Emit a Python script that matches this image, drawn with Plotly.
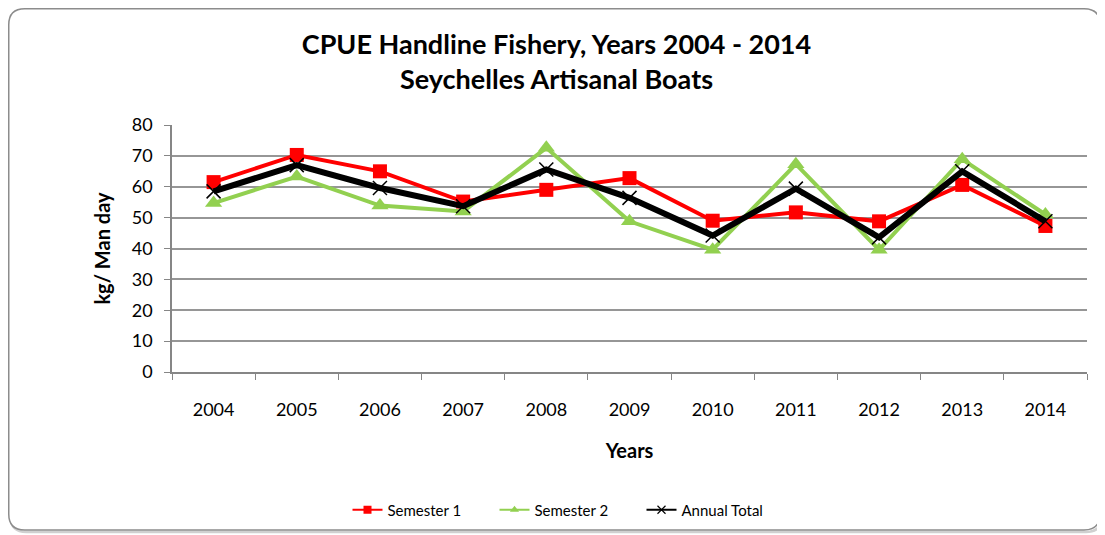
import plotly.graph_objects as go

years = ["2004", "2005", "2006", "2007", "2008", "2009", "2010", "2011", "2012", "2013", "2014"]
semester1 = [61.5, 70.3, 65.0, 55.2, 59.0, 62.8, 49.0, 51.7, 48.8, 60.6, 47.3]
semester2 = [54.7, 63.3, 53.9, 52.0, 72.6, 48.8, 39.6, 67.3, 39.6, 68.9, 51.0]
annual = [58.5, 67.0, 59.6, 53.7, 65.6, 56.4, 44.2, 59.4, 43.6, 65.0, 48.8]
y_ticks = [0, 10, 20, 30, 40, 50, 60, 70, 80]

FONT = "Lato"
RED, GREEN, BLACK = "#FF0000", "#92D050", "#000000"

fig = go.Figure()
fig.add_trace(go.Scatter(x=years, y=semester1, name="Semester 1", mode="lines+markers",
                         showlegend=False, legendgroup="s1",
                         line=dict(color=RED, width=4),
                         marker=dict(symbol="square", size=14, color=RED)))
fig.add_trace(go.Scatter(x=years, y=semester2, name="Semester 2", mode="lines+markers",
                         showlegend=False, legendgroup="s2",
                         line=dict(color=GREEN, width=4),
                         marker=dict(symbol="triangle-up", size=15, color=GREEN)))
fig.add_trace(go.Scatter(x=years, y=annual, name="Annual Total", mode="lines+markers",
                         showlegend=False, legendgroup="at",
                         line=dict(color=BLACK, width=6),
                         marker=dict(symbol="x-thin", size=14, color=BLACK,
                                     line=dict(color=BLACK, width=1.5))))
# legend entries (small markers, thin lines, as in the original)
fig.add_trace(go.Scatter(x=[None], y=[None], name="Semester 1", mode="lines+markers",
                         legendgroup="s1", line=dict(color=RED, width=2),
                         marker=dict(symbol="square", size=8, color=RED)))
fig.add_trace(go.Scatter(x=[None], y=[None], name="Semester 2", mode="lines+markers",
                         legendgroup="s2", line=dict(color=GREEN, width=2),
                         marker=dict(symbol="triangle-up", size=8, color=GREEN)))
fig.add_trace(go.Scatter(x=[None], y=[None], name="Annual Total", mode="lines+markers",
                         legendgroup="at", line=dict(color=BLACK, width=2),
                         marker=dict(symbol="x-thin", size=8, color=BLACK,
                                     line=dict(color=BLACK, width=1.2))))

W, H = 1097, 527
L, R, T, B = 164, 18, 117, 163
pw, ph = W - L - R, H - T - B

def px(x):
    return (x - L) / pw

def py(y):
    return (H - B - y) / ph

def rounded(x0, y0, x1, y1, r):
    rx, ry = r / pw, r / ph
    X0, X1, Y0, Y1 = px(x0), px(x1), py(y0), py(y1)
    return (f"M {X0+rx},{Y0} L {X1-rx},{Y0} Q {X1},{Y0} {X1},{Y0-ry} "
            f"L {X1},{Y1+ry} Q {X1},{Y1} {X1-rx},{Y1} L {X0+rx},{Y1} "
            f"Q {X0},{Y1} {X0},{Y1+ry} L {X0},{Y0-ry} Q {X0},{Y0} {X0+rx},{Y0} Z")

fig.update_layout(
    width=W, height=H,
    margin=dict(l=L, r=R, t=T, b=B, autoexpand=False),
    paper_bgcolor="white", plot_bgcolor="white",
    font=dict(family=FONT, size=18, color="black"),
    title=dict(text="<b>CPUE Handline Fishery, Years 2004 - 2014<br>Seychelles Artisanal Boats</b>",
               x=0.5, xref="container", xanchor="center",
               y=1 - 46 / H, yref="container", yanchor="top",
               font=dict(family=FONT, size=27, color="black")),
    showlegend=True,
    legend=dict(orientation="h", x=560 / W, xanchor="center", xref="container",
                y=(H - 502) / H, yref="container", yanchor="middle", font=dict(size=15),
                entrywidth=102, entrywidthmode="pixels",
                bgcolor="rgba(0,0,0,0)", itemclick=False, itemdoubleclick=False),
    shapes=[
        dict(type="path", path=rounded(2.5, 2.5, 1094, 524, 16), xref="paper", yref="paper",
             line=dict(color="#D0D0D0", width=2.5), layer="below"),
        dict(type="path", path=rounded(0.75, 0.75, 1092, 522, 16), xref="paper", yref="paper",
             line=dict(color="#8C8C8C", width=1.5), fillcolor="white", layer="below"),
    ],
)
fig.update_xaxes(type="category", showline=True, linecolor="#868686", linewidth=1.5,
                 ticks="outside", tickson="boundaries", ticklen=6, tickcolor="#868686",
                 ticklabelstandoff=21, showgrid=False, range=[-0.5, 10.5],
                 title=dict(text="<b>Years</b>", font=dict(size=20), standoff=25))
fig.update_yaxes(range=[0, 80], tickvals=y_ticks, showline=True, linecolor="#868686", linewidth=1.5,
                 ticks="outside", ticklen=6, tickcolor="#868686", ticklabelstandoff=8,
                 showgrid=True, gridcolor="#969696", gridwidth=1.5, zeroline=False,
                 title=dict(text="<b>kg/ Man day</b>", font=dict(size=20), standoff=16))

fig.write_html("out.html")
